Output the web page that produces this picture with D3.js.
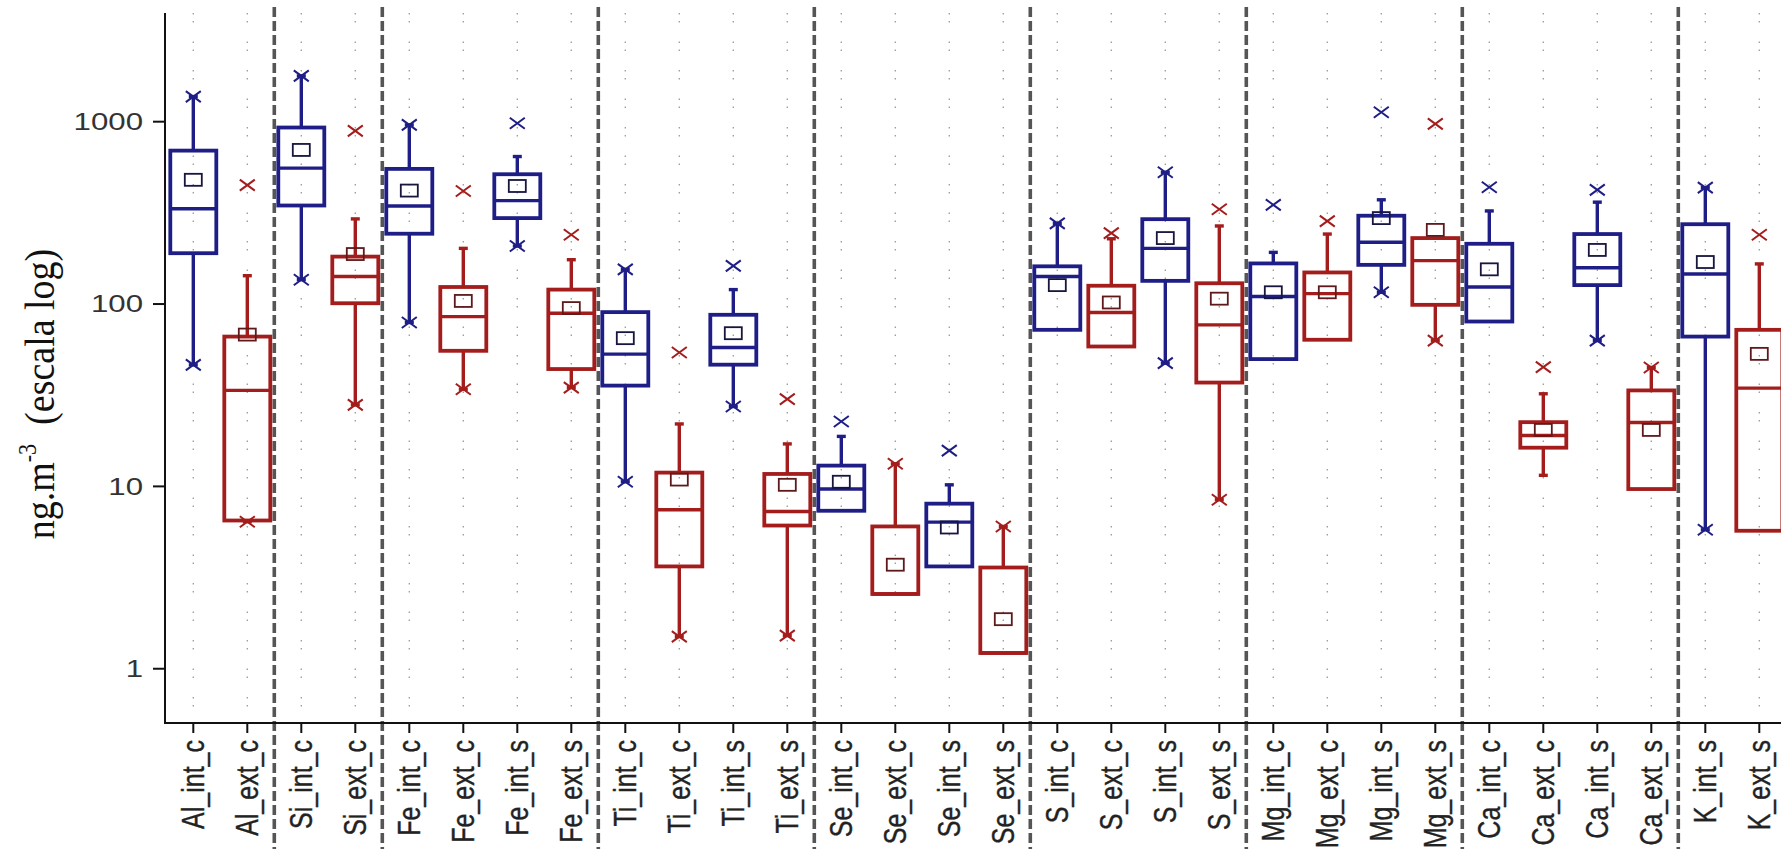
<!DOCTYPE html>
<html>
<head>
<meta charset="utf-8">
<script src="https://cdn.jsdelivr.net/npm/d3@7"></script>
<style>
  html, body { margin: 0; padding: 0; background: #fff; }
  svg { display: block; }
</style>
</head>
<body>
<svg id="chart" width="1781" height="849"></svg>
<script>
// Element concentrations (ng.m-3), interior vs exterior, by campaign (c / s)
const categories = [
  "Al_int_c", "Al_ext_c",
  "Si_int_c", "Si_ext_c",
  "Fe_int_c", "Fe_ext_c", "Fe_int_s", "Fe_ext_s",
  "Ti_int_c", "Ti_ext_c", "Ti_int_s", "Ti_ext_s",
  "Se_int_c", "Se_ext_c", "Se_int_s", "Se_ext_s",
  "S_int_c", "S_ext_c", "S_int_s", "S_ext_s",
  "Mg_int_c", "Mg_ext_c", "Mg_int_s", "Mg_ext_s",
  "Ca_int_c", "Ca_ext_c", "Ca_int_s", "Ca_ext_s",
  "K_int_s", "K_ext_s"
];

const whiskerLow  = [46.4, 6.4, 136, 28, 79.2, 34.1, 208, 34.8, 10.6, 1.5, 27.4, 1.52, 7.35, 2.57, 3.64, 1.22, 72.2, 58.5, 47.4, 8.45, 49.9, 63.7, 116, 63, 80.2, 11.5, 63, 9.67, 5.78, 5.71];
const q1          = [190, 6.5, 347, 101, 243, 55.4, 296, 44, 35.7, 3.64, 46.5, 6.1, 7.35, 2.57, 3.64, 1.22, 72.2, 58.5, 134, 37.1, 49.9, 63.7, 164, 99, 80.2, 16.3, 127, 9.67, 66.3, 5.71];
const median      = [333, 33.6, 556, 141.6, 345, 85.3, 369, 89, 53.1, 7.44, 57.8, 7.28, 9.67, 2.57, 6.37, 1.22, 141.6, 89.8, 202, 76.9, 110, 114, 218, 173, 124, 19.0, 158, 22.4, 146, 34.6];
const q3          = [694, 66.3, 929, 182, 551, 124, 515, 120, 90.3, 11.9, 87.3, 11.7, 13.0, 6.03, 8.04, 3.59, 161, 126, 292, 130, 167, 149, 305, 230, 214, 22.5, 242, 33.6, 274, 72.2];
const whiskerHigh = [1373, 143, 1783, 293, 960, 202, 644, 175, 155, 22, 120, 17.1, 18.8, 13.3, 10.2, 6.03, 277, 228, 528, 268, 192, 242, 373, 230, 324, 32.2, 362, 44.9, 435, 166];
const meanValue   = [480, 68, 700, 188, 419, 104, 444, 95, 65, 10.9, 69.2, 10.2, 10.6, 3.72, 5.95, 1.87, 127, 102, 230, 107, 116, 116, 296, 255, 155, 20.4, 198, 20.4, 170, 53.3];
const lowMark     = [46.4, 6.4, 136, 28, 79.2, 34.1, 208, 34.8, 10.6, 1.5, 27.4, 1.52, null, null, null, null, null, null, 47.4, 8.45, null, null, 116, 63, null, null, 63, null, 5.78, null];
const highMark    = [1373, 449, 1783, 891, 960, 417, 981, 240, 155, 54.2, 162, 30.1, 22.7, 13.3, 15.7, 6.03, 277, 245, 528, 331, 350, 285, 1127, 973, 437, 45.1, 423, 44.9, 435, 240];

const yTicks = [1, 10, 100, 1000];
const yDomain = [0.504, 3945];

const seriesColor = { int: "#1e1e86", ext: "#a41d1d" };
const seriesDark  = { int: "#16163f", ext: "#5e1a1a" };

const svg = d3.select("#chart");
const W = 1781, H = 849;
const plotLeft = 165, plotTop = 13, plotBottom = 723;

const x = d3.scaleBand()
  .domain(categories)
  .range([166.3, 166.3 + 54 * categories.length])
  .paddingInner(0).paddingOuter(0);

const y = d3.scaleLog().domain(yDomain).range([plotBottom, plotTop]);

const seriesOf = c => c.includes("_int_") ? "int" : "ext";
const cx = c => x(c) + x.bandwidth() / 2;

// dotted vertical guides at each category
const grid = svg.append("g");
categories.forEach(c => {
  grid.append("line")
    .attr("x1", cx(c)).attr("x2", cx(c))
    .attr("y1", plotTop).attr("y2", plotBottom)
    .attr("stroke", "#9a9a9a")
    .attr("stroke-width", 1.3)
    .attr("stroke-dasharray", "1.5,6.5,1.5,19");
});

// dashed separators between elements
const prefix = c => c.split("_")[0];
const seps = [];
for (let i = 1; i < categories.length; i++) {
  if (prefix(categories[i]) !== prefix(categories[i - 1])) seps.push(x(categories[i]));
}
svg.append("g").selectAll("line").data(seps).join("line")
  .attr("x1", d => d).attr("x2", d => d)
  .attr("y1", 7).attr("y2", H)
  .attr("stroke", "#555")
  .attr("stroke-width", 3.6)
  .attr("stroke-dasharray", "10,4");

// boxes
const boxW = 46;
const boxes = svg.append("g");
categories.forEach((c, i) => {
  const s = seriesOf(c);
  const col = seriesColor[s];
  const g = boxes.append("g");
  const xc = cx(c);

  // whiskers
  if (whiskerHigh[i] > q3[i]) {
    g.append("line").attr("x1", xc).attr("x2", xc)
      .attr("y1", y(q3[i])).attr("y2", y(whiskerHigh[i]))
      .attr("stroke", col).attr("stroke-width", 3.4);
    g.append("line").attr("x1", xc - 4.5).attr("x2", xc + 4.5)
      .attr("y1", y(whiskerHigh[i])).attr("y2", y(whiskerHigh[i]))
      .attr("stroke", col).attr("stroke-width", 3.4);
  }
  if (whiskerLow[i] < q1[i]) {
    g.append("line").attr("x1", xc).attr("x2", xc)
      .attr("y1", y(q1[i])).attr("y2", y(whiskerLow[i]))
      .attr("stroke", col).attr("stroke-width", 3.4);
    g.append("line").attr("x1", xc - 4.5).attr("x2", xc + 4.5)
      .attr("y1", y(whiskerLow[i])).attr("y2", y(whiskerLow[i]))
      .attr("stroke", col).attr("stroke-width", 3.4);
  }

  // box and median
  g.append("rect")
    .attr("x", xc - boxW / 2).attr("width", boxW)
    .attr("y", y(q3[i])).attr("height", y(q1[i]) - y(q3[i]))
    .attr("fill", "none").attr("stroke", col).attr("stroke-width", 3.8);
  g.append("line")
    .attr("x1", xc - boxW / 2).attr("x2", xc + boxW / 2)
    .attr("y1", y(median[i])).attr("y2", y(median[i]))
    .attr("stroke", col).attr("stroke-width", 3.4);

  // mean
  g.append("rect")
    .attr("x", xc - 8.5).attr("width", 17)
    .attr("y", y(meanValue[i]) - 6).attr("height", 12)
    .attr("fill", "none").attr("stroke", seriesDark[s]).attr("stroke-width", 1.8);

  // extreme markers
  [lowMark[i], highMark[i]].forEach(v => {
    if (v == null) return;
    const yy = y(v);
    g.append("path")
      .attr("d", `M${xc - 7.5},${yy - 5.5}L${xc + 7.5},${yy + 5.5}M${xc - 7.5},${yy + 5.5}L${xc + 7.5},${yy - 5.5}`)
      .attr("stroke", col).attr("stroke-width", 2).attr("fill", "none");
  });
});

// y axis
const yAxis = svg.append("g");
yAxis.append("line")
  .attr("x1", plotLeft).attr("x2", plotLeft)
  .attr("y1", plotTop).attr("y2", plotBottom + 1)
  .attr("stroke", "#111").attr("stroke-width", 2);
yTicks.forEach(t => {
  yAxis.append("line")
    .attr("x1", plotLeft - 12).attr("x2", plotLeft)
    .attr("y1", y(t)).attr("y2", y(t))
    .attr("stroke", "#111").attr("stroke-width", 2);
  yAxis.append("text")
    .attr("transform", `translate(${plotLeft - 22},${y(t)}) scale(1.3,1)`)
    .attr("text-anchor", "end")
    .attr("dominant-baseline", "central")
    .attr("font-family", "'Liberation Sans', Arial, sans-serif")
    .attr("font-size", 24)
    .attr("fill", "#333")
    .text(d3.format("d")(t));
});

// x axis
const xAxis = svg.append("g");
xAxis.append("line")
  .attr("x1", plotLeft - 1).attr("x2", W)
  .attr("y1", plotBottom).attr("y2", plotBottom)
  .attr("stroke", "#111").attr("stroke-width", 2);
categories.forEach(c => {
  xAxis.append("line")
    .attr("x1", cx(c)).attr("x2", cx(c))
    .attr("y1", plotBottom).attr("y2", plotBottom + 10)
    .attr("stroke", "#111").attr("stroke-width", 2);
  xAxis.append("text")
    .attr("transform", `translate(${cx(c)},740) scale(1.28,1) rotate(-90)`)
    .attr("text-anchor", "end")
    .attr("dominant-baseline", "central")
    .attr("font-family", "'Liberation Sans', Arial, sans-serif")
    .attr("font-size", 25)
    .attr("fill", "#222")
    .attr("stroke", "#222")
    .attr("stroke-width", 0.3)
    .text(c);
});

// y axis title
const title = svg.append("text")
  .attr("transform", `translate(54,394) scale(1.1,1) rotate(-90)`)
  .attr("text-anchor", "middle")
  .attr("font-family", "'Liberation Serif', 'Times New Roman', serif")
  .attr("font-size", 38)
  .attr("fill", "#111");
title.append("tspan").text("ng.m");
title.append("tspan").attr("font-size", 22).attr("dy", -16).text("-3");
title.append("tspan").attr("dy", 16).text("\u00a0 (escala log)");
</script>
</body>
</html>
